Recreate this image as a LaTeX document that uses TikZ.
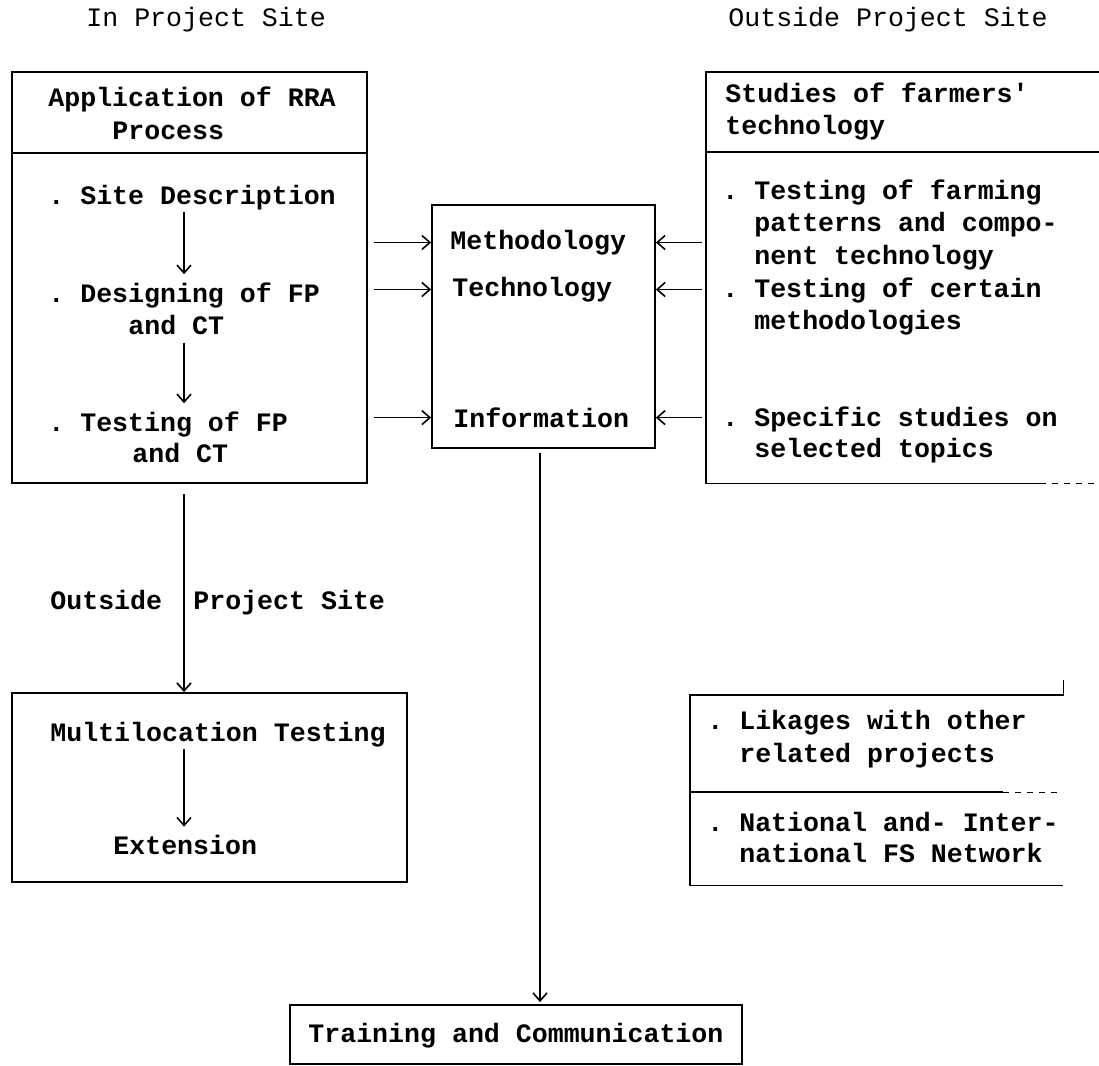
\documentclass[tikz,border=0pt]{standalone}
\usepackage{fontspec}
\setmonofont{Liberation Mono}
\usetikzlibrary{arrows.meta,fit}
\begin{document}
\begin{tikzpicture}[x=0.5pt,y=-0.5pt,
  txt/.style={anchor=mid west, inner sep=0, font=\fontsize{13.3}{16.5}\selectfont\ttfamily\bfseries},
  hdr/.style={anchor=mid west, inner sep=0, font=\fontsize{13.3}{16.5}\selectfont\ttfamily},
  box/.style={draw, inner sep=0, line width=0.9pt},
  edge/.style={line width=0.9pt},
  arr/.style={-{Straight Barb[length=4pt,width=7pt]}, line width=0.8pt}]
\useasboundingbox (0,0) rectangle (1099,1066);
\clip (0,0) rectangle (1099,1066);

% headers
\node[hdr] (h1) at (86,22) {In Project Site};
\node[hdr] (h2) at (728,22) {Outside Project Site};

% boxes
\node[box, fit={(12,72) (367,483)}] (lbox) {};
\node[box, fit={(432,205) (655,448)}] (cbox) {};
\node[inner sep=0, fit={(706,72) (1130,483)}] (rbox) {};
\node[box, fit={(12,693) (407,882)}] (mbox) {};
\node[inner sep=0, fit={(690,695) (1063,885)}] (kbox) {};
\node[box, fit={(290,1005) (742,1064)}] (tbox) {};

% right box outline (cut off at the right, faint end of bottom line)
\draw[edge] (rbox.north east) -- (rbox.north west) -- (rbox.south west) -- ([xshift=-45pt]rbox.south east);
\draw[edge, dashed, line width=0.5pt] ([xshift=-45pt]rbox.south east) -- (rbox.south east);

% dividers
\coordinate (ldiv) at (0,153);
\coordinate (rdiv) at (0,152);
\coordinate (kdiv) at (0,792);
\draw[edge] (lbox.west |- ldiv) -- (lbox.east |- ldiv);
\draw[edge] (rbox.west |- rdiv) -- (rbox.east |- rdiv);

% likages box outline (faint right side)
\draw[edge] (kbox.north east) ++(0,-15) -- (kbox.north east) -- (kbox.north west) -- (kbox.south west) -- (kbox.south east);
\draw[edge] (kbox.west |- kdiv) -- ([xshift=-30pt]kbox.east |- kdiv);
\draw[edge, dashed, line width=0.5pt] ([xshift=-30pt]kbox.east |- kdiv) -- (kbox.east |- kdiv);

% left box text
\node[txt] (app) at (48,102) {Application of RRA};
\node[txt] (proc) at (112,135) {Process};
\node[txt] (site) at (48,200) {. Site Description};
\node[txt] (des) at (48,298) {. Designing of FP};
\node[txt] (des2) at (128,330) {and CT};
\node[txt] (tst) at (48,427) {. Testing of FP};
\node[txt] (tst2) at (132,458) {and CT};

\coordinate (axisL) at (184,0);
\draw[arr] ([yshift=-1pt]site.south -| axisL) -- ([yshift=4pt]des.north -| axisL);
\draw[arr] ([yshift=-4pt]des2.south -| axisL) -- ([yshift=4pt]tst.north -| axisL);

% center box text
\node[txt] (meth) at (450,245) {Methodology};
\node[txt] (tech) at (452,292) {Technology};
\node[txt] (info) at (453,423) {Information};

\draw[arr, shorten <=3pt] (lbox.east |- meth) -- (cbox.west |- meth);
\draw[arr, shorten <=3pt] (lbox.east |- tech) -- (cbox.west |- tech);
\draw[arr, shorten <=3pt] (lbox.east |- info) -- (cbox.west |- info);
\draw[arr, shorten <=2pt] (rbox.west |- meth) -- (cbox.east |- meth);
\draw[arr, shorten <=2pt] (rbox.west |- tech) -- (cbox.east |- tech);
\draw[arr, shorten <=2pt] (rbox.west |- info) -- (cbox.east |- info);

% right box text
\node[txt] (stu) at (725,98) {Studies of farmers'};
\node[txt] (stu2) at (725,130) {technology};
\node[txt] (r1) at (722,195) {. Testing of farming};
\node[txt] (r1b) at (754,227) {patterns and compo-};
\node[txt] (r1c) at (754,260) {nent technology};
\node[txt] (r2) at (722,293) {. Testing of certain};
\node[txt] (r2b) at (754,325) {methodologies};
\node[txt] (r3) at (722,422) {. Specific studies on};
\node[txt] (r3b) at (754,453) {selected topics};

% outside label and arrow
\node[txt] (out1) at (50,605) {Outside};
\node[txt] (out2) at (193,605) {Project Site};
\draw[arr, shorten <=5pt] (lbox.south -| axisL) -- (mbox.north -| axisL);

% multilocation box
\node[txt] (mt) at (50,737) {Multilocation Testing};
\node[txt] (ext) at (113,850) {Extension};
\draw[arr] ([yshift=-1pt]mt.south -| axisL) -- ([yshift=4pt]ext.north -| axisL);

% likages box text
\node[txt] (k1) at (707,725) {. Likages with other};
\node[txt] (k1b) at (739,758) {related projects};
\node[txt] (k2) at (707,827) {. National and- Inter-};
\node[txt] (k2b) at (739,858) {national FS Network};

% training
\node[txt] (tc) at (308,1038) {Training and Communication};
\coordinate (axisC) at (540,0);
\draw[arr, shorten <=2pt] (cbox.south -| axisC) -- ([yshift=1pt]tbox.north -| axisC);
\end{tikzpicture}
\end{document}
